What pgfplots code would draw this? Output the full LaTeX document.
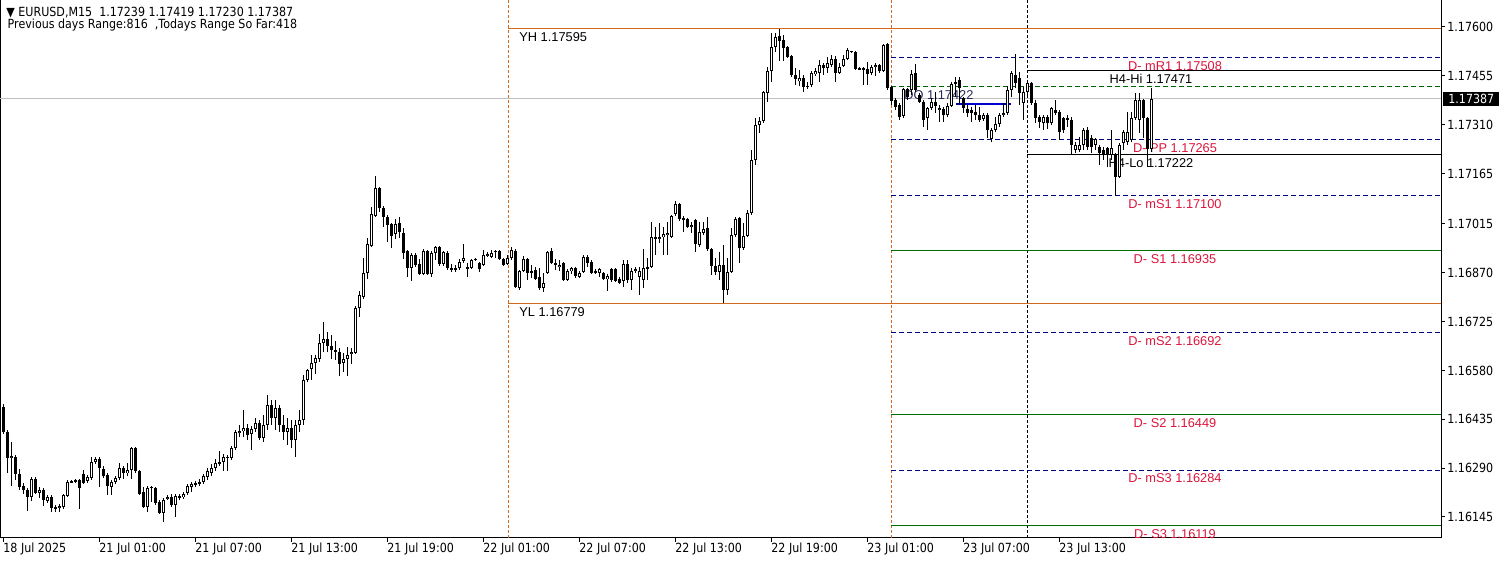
\documentclass[border=0pt]{standalone}
\usepackage{fontspec}
\setmainfont{Liberation Sans}
\newfontfamily\tahoma[FakeStretch=0.88]{DejaVu Sans}
\usepackage{pgfplots}
\usepackage{pgfplotstable}
\pgfplotsset{compat=1.18}

\definecolor{mtorange}{RGB}{210,105,30}
\definecolor{mtnavy}{RGB}{0,0,128}
\definecolor{mtgreen}{RGB}{0,110,0}
\definecolor{mtdkgreen}{RGB}{0,100,0}
\definecolor{mtred}{RGB}{220,20,60}
\definecolor{mtsilver}{RGB}{192,192,192}
\definecolor{mtblue}{RGB}{0,0,205}
\definecolor{dolabel}{RGB}{40,40,90}

% EURUSD M15 candles: bar index, open, high, low, close
\pgfplotstableread{
i o h l c
0 1.16471 1.16480 1.16391 1.16397
1 1.16397 1.16403 1.16275 1.16320
2 1.16320 1.16367 1.16237 1.16326
3 1.16323 1.16329 1.16254 1.16272
4 1.16272 1.16287 1.16225 1.16234
5 1.16237 1.16245 1.16213 1.16225
6 1.16225 1.16231 1.16162 1.16204
7 1.16204 1.16263 1.16192 1.16257
8 1.16257 1.16263 1.16213 1.16216
9 1.16216 1.16234 1.16201 1.16225
10 1.16225 1.16231 1.16177 1.16195
11 1.16192 1.16210 1.16186 1.16204
12 1.16204 1.16210 1.16159 1.16171
13 1.16174 1.16180 1.16159 1.16171
14 1.16171 1.16183 1.16159 1.16177
15 1.16174 1.16213 1.16168 1.16210
16 1.16207 1.16254 1.16204 1.16248
17 1.16248 1.16254 1.16245 1.16251
18 1.16251 1.16257 1.16245 1.16254
19 1.16254 1.16257 1.16168 1.16231
20 1.16272 1.16284 1.16243 1.16245
21 1.16251 1.16269 1.16245 1.16263
22 1.16260 1.16323 1.16254 1.16308
23 1.16308 1.16323 1.16302 1.16317
24 1.16317 1.16323 1.16234 1.16290
25 1.16287 1.16296 1.16260 1.16266
26 1.16269 1.16275 1.16210 1.16237
27 1.16234 1.16254 1.16210 1.16248
28 1.16248 1.16266 1.16243 1.16260
29 1.16260 1.16305 1.16254 1.16290
30 1.16290 1.16296 1.16257 1.16275
31 1.16275 1.16305 1.16266 1.16284
32 1.16284 1.16352 1.16257 1.16349
33 1.16349 1.16352 1.16275 1.16281
34 1.16281 1.16284 1.16210 1.16213
35 1.16219 1.16234 1.16171 1.16174
36 1.16174 1.16237 1.16159 1.16231
37 1.16234 1.16237 1.16189 1.16231
38 1.16231 1.16234 1.16180 1.16186
39 1.16189 1.16195 1.16153 1.16156
40 1.16156 1.16201 1.16130 1.16195
41 1.16198 1.16210 1.16195 1.16204
42 1.16204 1.16213 1.16174 1.16180
43 1.16180 1.16213 1.16145 1.16207
44 1.16204 1.16213 1.16195 1.16207
45 1.16204 1.16219 1.16198 1.16213
46 1.16216 1.16243 1.16210 1.16237
47 1.16234 1.16248 1.16219 1.16243
48 1.16243 1.16251 1.16234 1.16245
49 1.16243 1.16257 1.16237 1.16248
50 1.16248 1.16272 1.16243 1.16266
51 1.16263 1.16290 1.16254 1.16281
52 1.16275 1.16302 1.16266 1.16290
53 1.16290 1.16317 1.16281 1.16305
54 1.16305 1.16341 1.16296 1.16308
55 1.16308 1.16332 1.16281 1.16323
56 1.16320 1.16329 1.16281 1.16323
57 1.16320 1.16355 1.16314 1.16349
58 1.16349 1.16403 1.16343 1.16397
59 1.16394 1.16418 1.16382 1.16400
60 1.16400 1.16462 1.16382 1.16409
61 1.16409 1.16421 1.16373 1.16388
62 1.16391 1.16415 1.16343 1.16406
63 1.16406 1.16439 1.16397 1.16424
64 1.16424 1.16433 1.16373 1.16379
65 1.16379 1.16447 1.16367 1.16418
66 1.16418 1.16507 1.16403 1.16477
67 1.16477 1.16492 1.16418 1.16439
68 1.16439 1.16492 1.16403 1.16468
69 1.16468 1.16477 1.16397 1.16418
70 1.16418 1.16447 1.16373 1.16397
71 1.16397 1.16439 1.16358 1.16409
72 1.16409 1.16433 1.16349 1.16373
73 1.16373 1.16433 1.16323 1.16418
74 1.16418 1.16462 1.16397 1.16433
75 1.16433 1.16566 1.16418 1.16551
76 1.16551 1.16584 1.16545 1.16581
77 1.16584 1.16626 1.16551 1.16602
78 1.16602 1.16626 1.16569 1.16617
79 1.16614 1.16688 1.16605 1.16661
80 1.16661 1.16724 1.16635 1.16673
81 1.16673 1.16694 1.16635 1.16652
82 1.16652 1.16685 1.16614 1.16641
83 1.16641 1.16667 1.16611 1.16635
84 1.16635 1.16646 1.16563 1.16599
85 1.16602 1.16632 1.16575 1.16614
86 1.16614 1.16649 1.16563 1.16626
87 1.16629 1.16646 1.16599 1.16635
88 1.16632 1.16771 1.16629 1.16765
89 1.16765 1.16816 1.16739 1.16804
90 1.16798 1.16914 1.16792 1.16869
91 1.16869 1.16973 1.16851 1.16955
92 1.16949 1.17065 1.16946 1.17044
93 1.17038 1.17157 1.17035 1.17122
94 1.17122 1.17125 1.17050 1.17062
95 1.17062 1.17068 1.17006 1.17035
96 1.17035 1.17041 1.16961 1.17012
97 1.17015 1.17018 1.16943 1.16979
98 1.16985 1.17030 1.16970 1.17015
99 1.17018 1.17035 1.16973 1.16991
100 1.16988 1.17003 1.16911 1.16929
101 1.16935 1.16938 1.16857 1.16884
102 1.16884 1.16929 1.16845 1.16923
103 1.16923 1.16929 1.16887 1.16893
104 1.16896 1.16911 1.16863 1.16866
105 1.16866 1.16940 1.16863 1.16935
106 1.16935 1.16938 1.16863 1.16866
107 1.16866 1.16935 1.16857 1.16929
108 1.16929 1.16949 1.16908 1.16946
109 1.16946 1.16949 1.16890 1.16896
110 1.16896 1.16935 1.16890 1.16932
111 1.16929 1.16935 1.16878 1.16884
112 1.16884 1.16896 1.16872 1.16881
113 1.16881 1.16893 1.16872 1.16884
114 1.16884 1.16911 1.16878 1.16902
115 1.16905 1.16955 1.16899 1.16914
116 1.16887 1.16899 1.16857 1.16884
117 1.16884 1.16911 1.16881 1.16908
118 1.16911 1.16914 1.16905 1.16908
119 1.16899 1.16902 1.16872 1.16881
120 1.16893 1.16938 1.16890 1.16923
121 1.16920 1.16932 1.16917 1.16926
122 1.16917 1.16938 1.16914 1.16929
123 1.16935 1.16938 1.16914 1.16932
124 1.16935 1.16938 1.16908 1.16911
125 1.16911 1.16914 1.16890 1.16893
126 1.16896 1.16923 1.16893 1.16914
127 1.16914 1.16946 1.16908 1.16938
128 1.16935 1.16940 1.16825 1.16828
129 1.16825 1.16878 1.16819 1.16875
130 1.16875 1.16920 1.16872 1.16911
131 1.16911 1.16914 1.16848 1.16869
132 1.16875 1.16893 1.16854 1.16869
133 1.16878 1.16887 1.16848 1.16851
134 1.16857 1.16884 1.16819 1.16825
135 1.16825 1.16869 1.16813 1.16839
136 1.16869 1.16935 1.16866 1.16932
137 1.16935 1.16943 1.16896 1.16899
138 1.16899 1.16911 1.16878 1.16893
139 1.16887 1.16908 1.16875 1.16893
140 1.16899 1.16902 1.16845 1.16848
141 1.16848 1.16881 1.16845 1.16875
142 1.16875 1.16887 1.16866 1.16884
143 1.16884 1.16887 1.16854 1.16860
144 1.16857 1.16875 1.16854 1.16869
145 1.16872 1.16923 1.16869 1.16917
146 1.16917 1.16923 1.16887 1.16899
147 1.16902 1.16908 1.16866 1.16869
148 1.16872 1.16881 1.16866 1.16875
149 1.16869 1.16884 1.16857 1.16881
150 1.16869 1.16872 1.16848 1.16851
151 1.16851 1.16866 1.16816 1.16860
152 1.16881 1.16884 1.16842 1.16848
153 1.16881 1.16884 1.16842 1.16845
154 1.16851 1.16857 1.16837 1.16839
155 1.16845 1.16908 1.16828 1.16896
156 1.16896 1.16908 1.16839 1.16848
157 1.16848 1.16884 1.16819 1.16875
158 1.16875 1.16887 1.16869 1.16881
159 1.16857 1.16887 1.16804 1.16875
160 1.16848 1.16940 1.16825 1.16884
161 1.16884 1.16914 1.16848 1.16887
162 1.16887 1.17021 1.16884 1.16976
163 1.16973 1.17006 1.16923 1.16976
164 1.16970 1.17018 1.16958 1.16976
165 1.16976 1.17006 1.16923 1.16985
166 1.16982 1.17021 1.16923 1.16988
167 1.16976 1.17041 1.16973 1.17038
168 1.17044 1.17083 1.17038 1.17074
169 1.17074 1.17077 1.17024 1.17030
170 1.17033 1.17038 1.16991 1.17027
171 1.17030 1.17033 1.17003 1.17006
172 1.17006 1.17021 1.16988 1.17012
173 1.17027 1.17030 1.16932 1.16955
174 1.16952 1.17021 1.16946 1.16991
175 1.16988 1.17021 1.16982 1.17000
176 1.17003 1.17035 1.16935 1.16940
177 1.16940 1.16943 1.16863 1.16890
178 1.16890 1.16914 1.16863 1.16872
179 1.16872 1.16932 1.16848 1.16893
180 1.16893 1.16952 1.16779 1.16819
181 1.16819 1.16914 1.16804 1.16872
182 1.16872 1.17003 1.16869 1.16982
183 1.16982 1.17035 1.16976 1.17030
184 1.17033 1.17035 1.16899 1.16943
185 1.16943 1.17018 1.16938 1.16979
186 1.16979 1.17056 1.16976 1.17047
187 1.17047 1.17235 1.17041 1.17205
188 1.17205 1.17330 1.17190 1.17309
189 1.17309 1.17333 1.17285 1.17321
190 1.17321 1.17410 1.17315 1.17407
191 1.17404 1.17481 1.17377 1.17469
192 1.17469 1.17582 1.17436 1.17540
193 1.17540 1.17582 1.17526 1.17570
194 1.17573 1.17595 1.17499 1.17558
195 1.17561 1.17576 1.17499 1.17537
196 1.17540 1.17543 1.17508 1.17511
197 1.17514 1.17517 1.17451 1.17457
198 1.17457 1.17478 1.17428 1.17445
199 1.17439 1.17472 1.17425 1.17448
200 1.17448 1.17457 1.17407 1.17422
201 1.17422 1.17436 1.17416 1.17425
202 1.17428 1.17469 1.17422 1.17463
203 1.17460 1.17478 1.17454 1.17469
204 1.17463 1.17502 1.17436 1.17487
205 1.17487 1.17493 1.17457 1.17478
206 1.17478 1.17511 1.17463 1.17493
207 1.17487 1.17517 1.17481 1.17505
208 1.17505 1.17514 1.17436 1.17463
209 1.17463 1.17493 1.17460 1.17481
210 1.17484 1.17517 1.17481 1.17505
211 1.17505 1.17537 1.17502 1.17532
212 1.17526 1.17529 1.17523 1.17529
213 1.17526 1.17529 1.17472 1.17475
214 1.17478 1.17481 1.17472 1.17475
215 1.17475 1.17481 1.17428 1.17478
216 1.17475 1.17496 1.17428 1.17460
217 1.17463 1.17487 1.17457 1.17481
218 1.17481 1.17493 1.17454 1.17487
219 1.17487 1.17490 1.17463 1.17469
220 1.17469 1.17549 1.17466 1.17546
221 1.17549 1.17552 1.17413 1.17419
222 1.17422 1.17425 1.17368 1.17380
223 1.17383 1.17389 1.17353 1.17362
224 1.17368 1.17374 1.17324 1.17333
225 1.17335 1.17419 1.17330 1.17416
226 1.17416 1.17419 1.17383 1.17392
227 1.17413 1.17472 1.17398 1.17460
228 1.17463 1.17490 1.17407 1.17413
229 1.17398 1.17404 1.17374 1.17377
230 1.17377 1.17383 1.17303 1.17324
231 1.17330 1.17362 1.17294 1.17359
232 1.17359 1.17389 1.17353 1.17377
233 1.17377 1.17407 1.17344 1.17365
234 1.17353 1.17368 1.17318 1.17359
235 1.17356 1.17362 1.17318 1.17338
236 1.17338 1.17374 1.17333 1.17365
237 1.17365 1.17436 1.17362 1.17431
238 1.17431 1.17451 1.17392 1.17436
239 1.17442 1.17451 1.17368 1.17419
240 1.17389 1.17392 1.17344 1.17359
241 1.17356 1.17368 1.17333 1.17344
242 1.17353 1.17362 1.17318 1.17344
243 1.17347 1.17368 1.17324 1.17338
244 1.17338 1.17362 1.17318 1.17324
245 1.17327 1.17344 1.17321 1.17338
246 1.17338 1.17344 1.17270 1.17294
247 1.17267 1.17300 1.17258 1.17294
248 1.17294 1.17333 1.17288 1.17312
249 1.17312 1.17344 1.17303 1.17338
250 1.17338 1.17374 1.17333 1.17344
251 1.17344 1.17425 1.17338 1.17413
252 1.17413 1.17469 1.17392 1.17463
253 1.17457 1.17520 1.17419 1.17433
254 1.17448 1.17466 1.17368 1.17404
255 1.17374 1.17422 1.17324 1.17407
256 1.17407 1.17442 1.17398 1.17433
257 1.17433 1.17436 1.17368 1.17374
258 1.17374 1.17383 1.17315 1.17330
259 1.17333 1.17338 1.17300 1.17318
260 1.17315 1.17338 1.17294 1.17333
261 1.17333 1.17338 1.17297 1.17315
262 1.17315 1.17362 1.17309 1.17359
263 1.17353 1.17383 1.17338 1.17344
264 1.17347 1.17353 1.17264 1.17288
265 1.17330 1.17333 1.17285 1.17294
266 1.17330 1.17338 1.17303 1.17324
267 1.17324 1.17333 1.17222 1.17249
268 1.17235 1.17258 1.17226 1.17249
269 1.17235 1.17273 1.17229 1.17249
270 1.17249 1.17300 1.17235 1.17294
271 1.17294 1.17303 1.17235 1.17243
272 1.17270 1.17279 1.17226 1.17243
273 1.17249 1.17270 1.17235 1.17267
274 1.17243 1.17249 1.17190 1.17226
275 1.17235 1.17243 1.17205 1.17220
276 1.17240 1.17243 1.17184 1.17220
277 1.17220 1.17294 1.17205 1.17240
278 1.17220 1.17226 1.17102 1.17154
279 1.17154 1.17255 1.17151 1.17249
280 1.17255 1.17294 1.17235 1.17288
281 1.17258 1.17347 1.17249 1.17288
282 1.17264 1.17347 1.17258 1.17330
283 1.17330 1.17404 1.17324 1.17383
284 1.17324 1.17404 1.17285 1.17383
285 1.17383 1.17386 1.17270 1.17330
286 1.17330 1.17333 1.17184 1.17237
287 1.17239 1.17419 1.17230 1.17387
}\candles

\begin{document}
\begin{tikzpicture}
\useasboundingbox (0,0) rectangle (752.5pt,280.5pt);
\begin{axis}[
  at={(0pt,11.5pt)}, anchor=south west,
  width=720.5pt, height=269pt, scale only axis,
  xmin=-0.75, xmax=359.5, ymin=1.160823, ymax=1.176802,
  clip=false,
  axis line style={black, line width=0.5pt},
  tick align=outside, major tick length=2pt,
  tick style={black, line width=0.5pt},
  xtick pos=bottom, ytick pos=right, yticklabel pos=right,
  scaled y ticks=false,
  xtick={0,24,...,264},
  xticklabels={18 Jul 2025, 21 Jul 01:00, 21 Jul 07:00, 21 Jul 13:00, 21 Jul 19:00,
    22 Jul 01:00, 22 Jul 07:00, 22 Jul 13:00, 22 Jul 19:00, 23 Jul 01:00,
    23 Jul 07:00, 23 Jul 13:00},
  ytick={1.16145,1.16290,1.16435,1.16580,1.16725,1.16870,1.17015,1.17165,1.17310,1.17455,1.17600},
  yticklabels={1.16145,1.16290,1.16435,1.16580,1.16725,1.16870,1.17015,1.17165,1.17310,1.17455,1.17600},
  ticklabel style={font=\tahoma\fontsize{6.3}{7}\selectfont, inner sep=0pt},
  xticklabel style={anchor=north west, yshift=-0.5pt},
  yticklabel style={anchor=west, xshift=1pt},
]

% period separators
\addplot[mtorange, line width=0.5pt, dash pattern=on 1.5pt off 1pt] coordinates {(126.25,1.160823) (126.25,1.176802)};
\addplot[mtorange, line width=0.5pt, dash pattern=on 1.5pt off 1pt] coordinates {(222.1,1.160823) (222.1,1.176802)};
\addplot[black, line width=0.5pt, dash pattern=on 1.5pt off 1pt] coordinates {(256,1.160823) (256,1.176802)};

% yesterday high / low
\addplot[mtorange, line width=0.5pt] coordinates {(126.25,1.17595) (359.5,1.17595)};
\addplot[mtorange, line width=0.5pt] coordinates {(126.25,1.16779) (359.5,1.16779)};

% daily pivots
\addplot[mtnavy, line width=0.5pt, dash pattern=on 2.5pt off 1.5pt] coordinates {(222.1,1.17508) (359.5,1.17508)};
\addplot[mtdkgreen, line width=0.5pt, dash pattern=on 2.5pt off 1.5pt] coordinates {(222.1,1.17422) (359.5,1.17422)};
\addplot[mtnavy, line width=0.5pt, dash pattern=on 2.5pt off 1.5pt] coordinates {(222.1,1.17265) (359.5,1.17265)};
\addplot[mtnavy, line width=0.5pt, dash pattern=on 2.5pt off 1.5pt] coordinates {(222.1,1.17100) (359.5,1.17100)};
\addplot[mtgreen, line width=0.5pt] coordinates {(222.1,1.16935) (359.5,1.16935)};
\addplot[mtnavy, line width=0.5pt, dash pattern=on 2.5pt off 1.5pt] coordinates {(222.1,1.16692) (359.5,1.16692)};
\addplot[mtgreen, line width=0.5pt] coordinates {(222.1,1.16449) (359.5,1.16449)};
\addplot[mtnavy, line width=0.5pt, dash pattern=on 2.5pt off 1.5pt] coordinates {(222.1,1.16284) (359.5,1.16284)};
\addplot[mtgreen, line width=0.5pt] coordinates {(222.1,1.16119) (359.5,1.16119)};

% H4 high / low
\addplot[black, line width=0.5pt] coordinates {(256,1.17471) (359.5,1.17471)};
\addplot[black, line width=0.5pt] coordinates {(256,1.17222) (359.5,1.17222)};

% bid line and short blue level
\addplot[mtsilver, line width=0.5pt] coordinates {(-0.75,1.17387) (359.5,1.17387)};
\addplot[mtblue, line width=1pt] coordinates {(238.25,1.17371) (251.9,1.17371)};

% labels
\begin{scope}[every node/.style={inner sep=0pt, font=\fontsize{6.4}{7}\selectfont, yshift=-1.75pt}]
\node[anchor=north west] at (axis cs:129,1.17595) {YH 1.17595};
\node[anchor=north west] at (axis cs:129,1.16779) {YL 1.16779};
\node[anchor=north west, text=dolabel] at (axis cs:225.25,1.17422) {DO 1.17422};
\node[anchor=north, text=mtred] at (axis cs:293,1.17508) {D- mR1 1.17508};
\node[anchor=north, text=mtred] at (axis cs:293,1.17265) {D- PP 1.17265};
\node[anchor=north, text=mtred] at (axis cs:293,1.17100) {D- mS1 1.17100};
\node[anchor=north, text=mtred] at (axis cs:293,1.16935) {D- S1 1.16935};
\node[anchor=north, text=mtred] at (axis cs:293,1.16692) {D- mS2 1.16692};
\node[anchor=north, text=mtred] at (axis cs:293,1.16449) {D- S2 1.16449};
\node[anchor=north, text=mtred] at (axis cs:293,1.16284) {D- mS3 1.16284};
\node[anchor=north, text=mtred] at (axis cs:293,1.16119) {D- S3 1.16119};
\node[anchor=north] at (axis cs:287,1.17471) {H4-Hi 1.17471};
\node[anchor=north] at (axis cs:287,1.17222) {H4-Lo 1.17222};
\end{scope}

% candles: wicks, bodies, hollow inside of up bars
\addplot[draw=none, mark=none, forget plot,
  error bars/.cd, y dir=both, y explicit, error mark=none,
  error bar style={draw=black, line width=0.5pt}]
  table[x=i, y expr={0.5*(\thisrow{h}+\thisrow{l})}, y error expr={0.5*(\thisrow{h}-\thisrow{l})}] {\candles};
\addplot[draw=none, mark=none, forget plot,
  error bars/.cd, y dir=both, y explicit, error mark=none,
  error bar style={draw=black, line width=1.5pt}]
  table[x=i, y expr={0.5*(\thisrow{o}+\thisrow{c})}, y error expr={max(0.5*abs(\thisrow{c}-\thisrow{o}),0.000015)}] {\candles};
\addplot[draw=none, mark=none, forget plot,
  error bars/.cd, y dir=both, y explicit, error mark=none,
  error bar style={draw=white, line width=0.5pt}]
  table[x=i, y expr={0.5*(\thisrow{o}+\thisrow{c})}, y error expr={max(0.5*(\thisrow{c}-\thisrow{o})-0.0000297,0)}] {\candles};

% header and bid box
\node[anchor=base west, inner sep=0pt, font=\tahoma\fontsize{6.3}{7}\selectfont]
  at (axis description cs:0.0042,0.9684) {▼ EURUSD,M15\ \ 1.17239 1.17419 1.17230 1.17387};
\node[anchor=base west, inner sep=0pt, font=\tahoma\fontsize{6.3}{7}\selectfont]
  at (axis description cs:0.0051,0.947) {Previous days Range:816\ \ ,Todays Range So Far:418};
\node[anchor=west, fill=black, text=white, inner xsep=2.5pt, inner ysep=0pt, minimum height=7pt,
  font=\tahoma\fontsize{6.3}{7}\selectfont, xshift=1pt] at (axis cs:359.5,1.17387) {1.17387};
\end{axis}
\end{tikzpicture}
\end{document}
